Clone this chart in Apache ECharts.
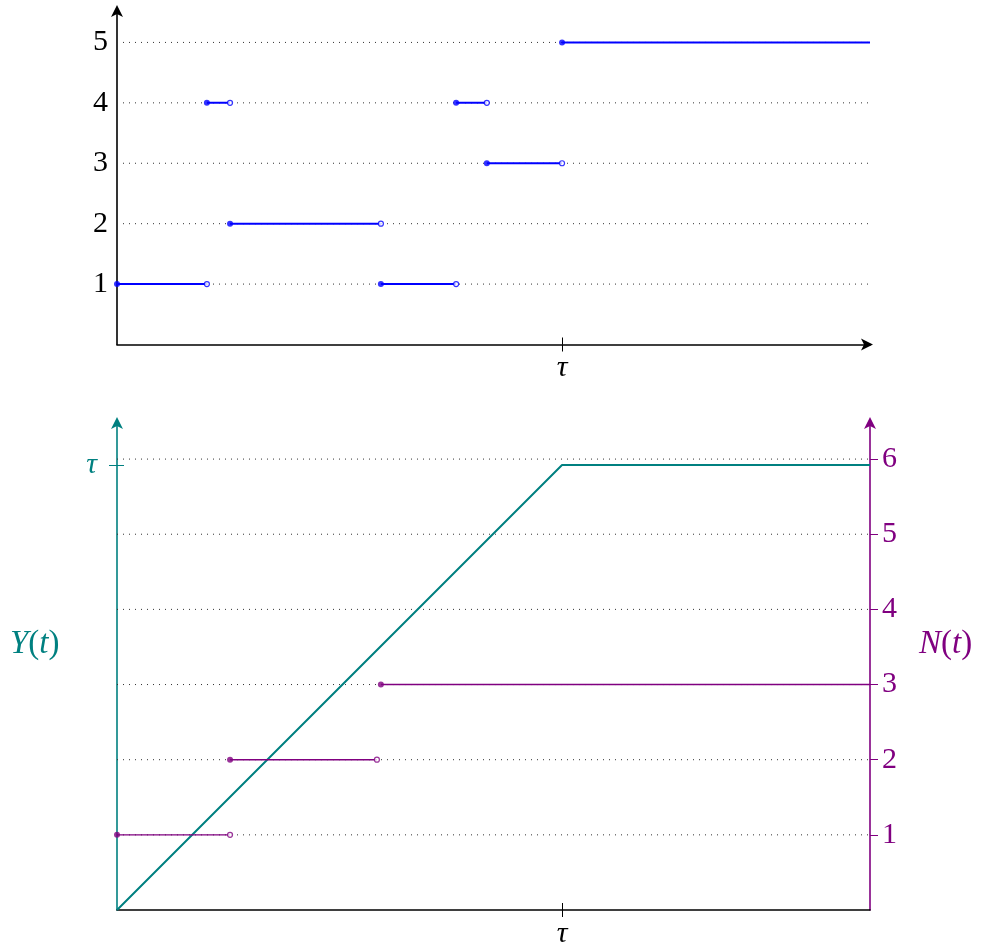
<!DOCTYPE html>
<html><head><meta charset="utf-8">
<script src="https://cdn.jsdelivr.net/npm/echarts@6/dist/echarts.min.js"></script>
<style>html,body{margin:0;padding:0;background:#fff}#c{width:981px;height:945px}</style>
</head><body><div id="c"></div>
<script>
// ---- data ----
const tau = 10;
const xEnd = 16.92;
// top panel: piecewise-constant path
const topStarts = [0, 2.02, 2.54, 5.93, 7.62, 8.31, 10];
const topEnds   = [2.02, 2.54, 5.93, 7.62, 8.31, 10, 16.92];
const topLevels = [1, 4, 2, 1, 4, 3, 5];
const topTicks  = [1, 2, 3, 4, 5];
// bottom panel: counting process N(t)
const nStarts = [0, 2.54, 5.93];
const nEnds   = [2.54, 5.84, 16.92];
const nLevels = [1, 2, 3];
const nTicks  = [1, 2, 3, 4, 5, 6];
// bottom panel: Y(t)
const yTimes = [0, 10, 16.92];
const yVals  = [0, 10, 10];

const BLUE = '#0000ff', TEAL = '#008080', PURPLE = '#800080', BLACK = '#000';
const SERIF = '"Liberation Serif","DejaVu Serif",serif';
const FS = 30;
const NFS = 33;

const chart = echarts.init(document.getElementById('c'), null, {renderer: 'canvas'});

const series = [];
function dotted(levels, xi, yi, z) {
  levels.forEach(l => series.push({
    type: 'line', xAxisIndex: xi, yAxisIndex: yi, silent: true, symbol: 'none', z: z,
    data: [[0, l], [xEnd, l]],
    lineStyle: {color: '#333', width: 1, type: [1, 5]}
  }));
}
function steps(starts, ends, levels, xi, yi, color, width, size) {
  starts.forEach((s, i) => series.push({
    type: 'line', xAxisIndex: xi, yAxisIndex: yi, symbol: 'none', z: 5,
    data: [[s, levels[i]], [ends[i], levels[i]]],
    lineStyle: {color: color, width: width}
  }));
  series.push({
    type: 'scatter', xAxisIndex: xi, yAxisIndex: yi, z: 6, symbolSize: size,
    data: starts.map((s, i) => [s, levels[i]]),
    itemStyle: {color: color}
  });
  series.push({
    type: 'scatter', xAxisIndex: xi, yAxisIndex: yi, z: 6, symbolSize: size - 1,
    data: ends.map((e, i) => [e, levels[i]]).filter(p => p[0] < xEnd),
    itemStyle: {color: '#fff', borderColor: color, borderWidth: 1.2}
  });
}
dotted(topTicks, 0, 0, 1);
steps(topStarts, topEnds, topLevels, 0, 0, BLUE, 2, 6);
dotted(nTicks, 2, 2, 1);
series.push({
  type: 'line', xAxisIndex: 2, yAxisIndex: 1, symbol: 'none', z: 4,
  data: yTimes.map((t, i) => [t, yVals[i]]),
  lineStyle: {color: TEAL, width: 2}
});
steps(nStarts, nEnds, nLevels, 2, 2, PURPLE, 1.4, 6);

const tauLabel = {fontFamily: SERIF, fontStyle: 'italic', fontSize: FS};
const arrow = {symbol: ['none', 'arrow'], symbolSize: [9, 12], symbolOffset: [0, 3]};

chart.setOption({
  animation: false,
  grid: [
    {left: 117, right: 111, top: 8, bottom: 600.5, outerBoundsMode: 'none', containLabel: false},
    {left: 117, right: 111, top: 420, bottom: 35, outerBoundsMode: 'none', containLabel: false}
  ],
  xAxis: [
    {gridIndex: 0, type: 'value', position: 'bottom', min: 0, max: xEnd, splitLine: {show: false},
     axisLine: {onZero: false, lineStyle: {color: BLACK, width: 1.6}, ...arrow},
     axisTick: {customValues: [tau], length: 7, lineStyle: {color: BLACK}},
     axisLabel: {customValues: [tau], formatter: () => 'τ', color: BLACK, margin: 9, ...tauLabel}},
    {gridIndex: 0, type: 'value', position: 'bottom', min: 0, max: xEnd, splitLine: {show: false},
     axisLine: {show: false, onZero: false},
     axisTick: {customValues: [tau], inside: true, length: 7, lineStyle: {color: BLACK}},
     axisLabel: {show: false}},
    {gridIndex: 1, type: 'value', position: 'bottom', min: 0, max: xEnd, splitLine: {show: false},
     axisLine: {onZero: false, lineStyle: {color: BLACK, width: 1.6}},
     axisTick: {customValues: [tau], length: 7, lineStyle: {color: BLACK}},
     axisLabel: {customValues: [tau], formatter: () => 'τ', color: BLACK, margin: 9, ...tauLabel}},
    {gridIndex: 1, type: 'value', position: 'bottom', min: 0, max: xEnd, splitLine: {show: false},
     axisLine: {show: false, onZero: false},
     axisTick: {customValues: [tau], inside: true, length: 7, lineStyle: {color: BLACK}},
     axisLabel: {show: false}}
  ],
  yAxis: [
    {gridIndex: 0, type: 'value', position: 'left', min: 0, max: 5.57, splitLine: {show: false},
     axisLine: {show: true, onZero: false, lineStyle: {color: BLACK, width: 1.6}, ...arrow},
     axisTick: {show: false},
     axisLabel: {customValues: topTicks, color: BLACK, fontFamily: SERIF, fontSize: FS, margin: 9}},
    {gridIndex: 1, type: 'value', position: 'left', min: 0, max: 11.01, splitLine: {show: false},
     axisLine: {show: true, onZero: false, lineStyle: {color: TEAL, width: 1.6}, ...arrow},
     axisTick: {customValues: [tau], length: 8, lineStyle: {color: TEAL}},
     axisLabel: {customValues: [tau], formatter: () => 'τ', color: TEAL, margin: 20, ...tauLabel}},
    {gridIndex: 1, type: 'value', position: 'right', min: 0, max: 6.52, splitLine: {show: false},
     axisLine: {show: true, onZero: false, lineStyle: {color: PURPLE, width: 1.6}, ...arrow},
     axisTick: {customValues: nTicks, length: 8, lineStyle: {color: PURPLE}},
     axisLabel: {customValues: nTicks, color: PURPLE, fontFamily: SERIF, fontSize: FS, margin: 12}},
    {gridIndex: 1, type: 'value', position: 'left', offset: 0, min: 0, max: 11.01, splitLine: {show: false},
     axisLine: {show: false, onZero: false},
     axisTick: {customValues: [tau], inside: true, length: 7, lineStyle: {color: TEAL}},
     axisLabel: {show: false}}
  ],
  graphic: [
    {type: 'text', left: 10, top: 628, style: {
      text: '{i|Y}({i|t})', fill: TEAL, font: NFS + 'px ' + SERIF,
      rich: {i: {fontStyle: 'italic', fontFamily: SERIF, fontSize: NFS, fill: TEAL}}}},
    {type: 'text', left: 919, top: 628, style: {
      text: '{i|N}({i|t})', fill: PURPLE, font: NFS + 'px ' + SERIF,
      rich: {i: {fontStyle: 'italic', fontFamily: SERIF, fontSize: NFS, fill: PURPLE}}}}
  ],
  series: series
});
</script></body></html>
